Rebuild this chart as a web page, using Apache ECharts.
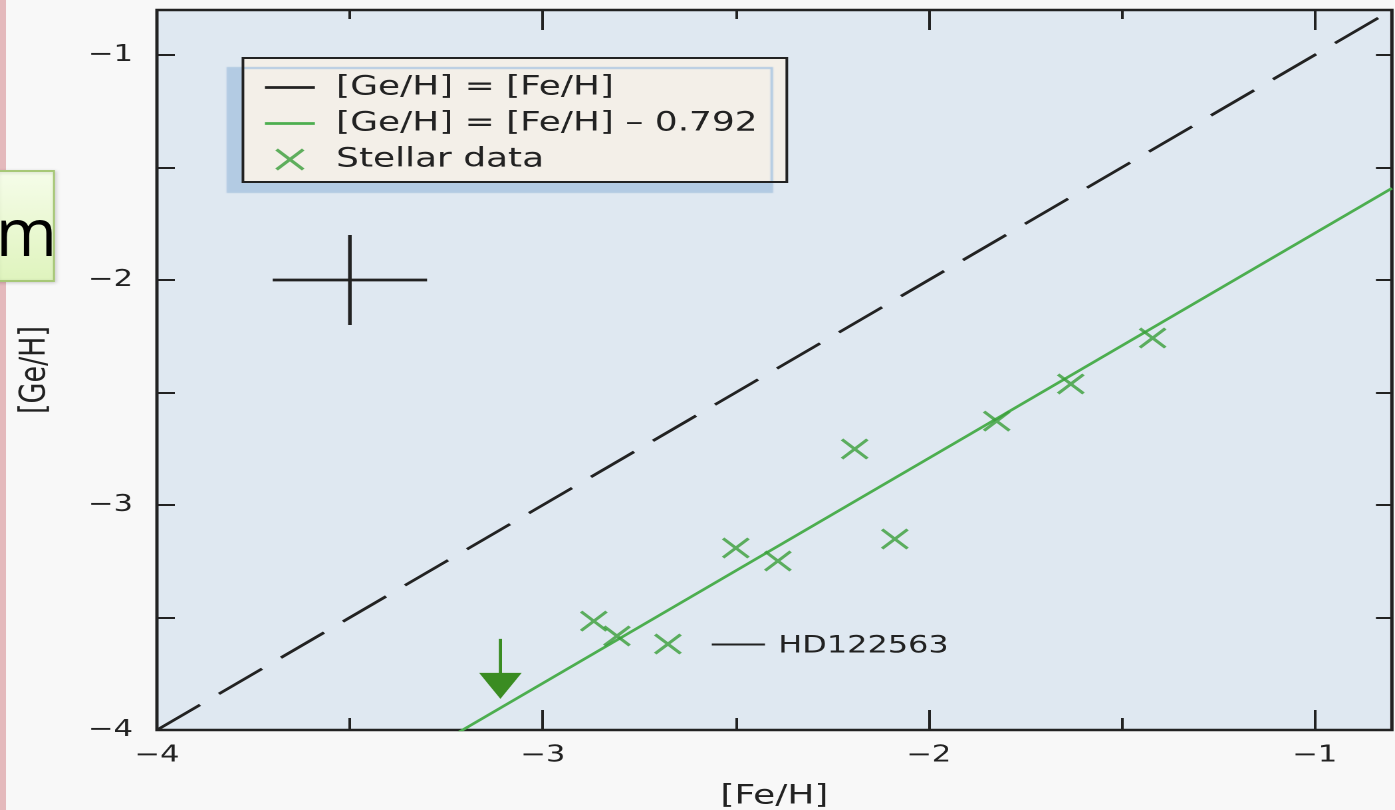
<!DOCTYPE html>
<html>
<head>
<meta charset="utf-8">
<title>[Ge/H] vs [Fe/H]</title>
<script src="https://cdn.jsdelivr.net/npm/echarts@6/dist/echarts.min.js"></script>
<style>
  html, body { margin: 0; padding: 0; background: #f8f8f8; overflow: hidden; }
  /* the figure is laid out narrow and widened horizontally as a whole */
  #chart { width: 1049px; height: 810px; transform-origin: 0 0; transform: scaleX(1.3298); }
</style>
</head>
<body>
<div id="chart"></div>
<script>
// Horizontal widening applied to the whole figure
const STRETCH = 1395 / 1049;

// Axis ranges and ticks
const xRange = [-4, -0.8];
const yRange = [-4, -0.8];
const xMajorTicks = [-4, -3, -2, -1];
const xMinorTicks = [-3.5, -2.5, -1.5];
const yTicks = [-4, -3.5, -3, -2.5, -2, -1.5, -1];
const yLabelTicks = [-4, -3, -2, -1];

// Stellar abundances
const starFe = [-1.42, -1.632, -1.824, -2.192, -2.088, -2.5, -2.391, -2.868, -2.808, -2.676];
const starGe = [-2.258, -2.462, -2.627, -2.751, -3.151, -3.191, -3.249, -3.516, -3.582, -3.618];
const starNames = ['', '', '', '', '', '', '', '', '', 'HD122563'];

// Upper limit (arrow) and representative error bar
const limitFe = [-3.11];
const limitGe = [-3.595];
const errCenter = [-3.5, -2.0];
const errSize = [0.2, 0.2];

// Reference relations
const offset = 0.792;
const lineFe = [-4, -0.8];

const names = ['[Ge/H] = [Fe/H]', '[Ge/H] = [Fe/H] \u2013 ' + offset.toFixed(3), 'Stellar data'];

const FONT = 'DejaVu Sans';
const INK = '#222';
const GREEN_LINE = '#4cae4f';
const GREEN_MARK = '#389e38';
const GREEN_ARROW = '#3a8c22';

const minus = v => String(v).replace('-', '\u2212');

const crossPath = 'path://M0,9L9,0L50,41L91,0L100,9L59,50L100,91L91,100L50,59L9,100L0,91L41,50Z';
const barPath = 'path://M0,0H40V2.8H0Z';

const chart = echarts.init(document.getElementById('chart'), null, { renderer: 'canvas', devicePixelRatio: 2 });

function tickAxis(pos, values, len, withLabel, extra) {
  return Object.assign({
    type: 'value', position: pos, min: xRange[0], max: xRange[1],
    axisLine: { show: false },
    splitLine: { show: false },
    axisTick: { show: true, inside: true, length: len, customValues: values,
      lineStyle: { color: INK, width: 2 } },
    axisLabel: withLabel ? {
      customValues: values, color: INK, fontFamily: FONT, fontSize: 23, margin: 14,
      formatter: minus
    } : { show: false }
  }, extra || {});
}

const option = {
  backgroundColor: '#f8f8f8',
  animation: false,
  grid: {
    left: 118, right: 2.3, top: 10, bottom: 80,
    outerBoundsMode: 'none', containLabel: false,
    show: true, backgroundColor: '#dfe8f1', borderColor: INK, borderWidth: 2.5
  },
  xAxis: [
    tickAxis('bottom', xMajorTicks, 20, true, {
      name: '[Fe/H]', nameLocation: 'middle', nameGap: 53,
      nameTextStyle: { color: INK, fontFamily: FONT, fontSize: 27 }
    }),
    tickAxis('bottom', xMinorTicks, 12, false),
    tickAxis('top', xMajorTicks, 20, false),
    tickAxis('top', xMinorTicks, 9, false)
  ],
  yAxis: [
    {
      type: 'value', position: 'left', min: yRange[0], max: yRange[1],
      axisLine: { show: false }, splitLine: { show: false },
      axisTick: { show: true, inside: true, length: 13.5, customValues: yTicks,
        lineStyle: { color: INK, width: 2 } },
      axisLabel: { customValues: yLabelTicks, color: INK, fontFamily: FONT, fontSize: 23,
        margin: 18, formatter: minus },
      name: '[Ge/H]', nameLocation: 'middle', nameGap: 78, nameRotate: 90,
      nameTextStyle: { color: INK, fontFamily: FONT, fontSize: 27 }
    },
    {
      type: 'value', position: 'right', min: yRange[0], max: yRange[1],
      axisLine: { show: false }, splitLine: { show: false },
      axisTick: { show: true, inside: true, length: 12, customValues: yTicks,
        lineStyle: { color: INK, width: 2 } },
      axisLabel: { show: false }
    }
  ],
  legend: {
    orient: 'vertical', left: 182.7, top: 58,
    padding: [16, 22, 9, 16.5],
    itemGap: 9, itemWidth: 37.6, itemHeight: 22,
    backgroundColor: '#f3efe8', borderColor: INK, borderWidth: 2, borderRadius: 0,
    shadowColor: '#b3cbe3', shadowBlur: 1, shadowOffsetX: -11.3, shadowOffsetY: 10,
    textStyle: { color: INK, fontFamily: FONT, fontSize: 27, lineHeight: 27, padding: [0, 0, 0, 11] },
    data: [
      { name: names[0], icon: barPath, itemStyle: { color: INK } },
      { name: names[1], icon: barPath, itemStyle: { color: GREEN_LINE } },
      { name: names[2], icon: crossPath, itemStyle: { color: GREEN_MARK } }
    ]
  },
  series: [
    {
      name: names[0], type: 'line', symbol: 'none', clip: true,
      data: lineFe.map(x => [x, x]),
      lineStyle: { color: INK, width: 2.6, type: [41, 18] }
    },
    {
      name: names[1], type: 'line', symbol: 'none', clip: true,
      data: lineFe.map(x => [x, x - offset]),
      lineStyle: { color: GREEN_LINE, width: 2.5 }
    },
    {
      name: names[2], type: 'scatter', symbol: crossPath, symbolSize: 21,
      itemStyle: { color: GREEN_MARK },
      data: starFe.map((x, i) => ({ value: [x, starGe[i]], name: starNames[i] })),
      z: 4
    },
    {
      // label with leader line for the named star
      type: 'custom', name: 'star-label', silent: true,
      data: starFe.map((x, i) => [x, starGe[i], i]).filter(d => starNames[d[2]]),
      renderItem: (params, api) => {
        const p = api.coord([api.value(0), api.value(1)]);
        const name = starNames[api.value(2)];
        return {
          type: 'group',
          children: [
            { type: 'line', shape: { x1: p[0] + 33, y1: p[1] + 0.5, x2: p[0] + 73, y2: p[1] + 0.5 },
              style: { stroke: INK, lineWidth: 2 } },
            { type: 'text', x: p[0] + 83, y: p[1] + 2,
              style: { text: name, fill: INK, font: '24px "DejaVu Sans"',
                textAlign: 'left', textVerticalAlign: 'middle' } }
          ]
        };
      }
    },
    {
      // upper limit arrow
      type: 'custom', name: 'upper-limit', silent: true,
      data: limitFe.map((x, i) => [x, limitGe[i]]),
      renderItem: (params, api) => {
        const p = api.coord([api.value(0), api.value(1)]);
        return {
          type: 'group',
          children: [
            { type: 'line', shape: { x1: p[0], y1: p[1], x2: p[0], y2: p[1] + 36 },
              style: { stroke: GREEN_ARROW, lineWidth: 2.4 } },
            { type: 'polygon', shape: { points: [[p[0] - 16, p[1] + 34], [p[0] + 16, p[1] + 34], [p[0], p[1] + 60]] },
              style: { fill: GREEN_ARROW } }
          ]
        };
      }
    },
    {
      // representative error bar
      type: 'custom', name: 'error-bar', silent: true,
      data: [[errCenter[0], errCenter[1], errSize[0], errSize[1]]],
      renderItem: (params, api) => {
        const x = api.value(0), y = api.value(1), ex = api.value(2), ey = api.value(3);
        const l = api.coord([x - ex, y]), r = api.coord([x + ex, y]);
        const t = api.coord([x, y + ey]), b = api.coord([x, y - ey]);
        const style = { stroke: INK, lineWidth: 2.7 };
        return {
          type: 'group',
          children: [
            { type: 'line', shape: { x1: l[0], y1: l[1], x2: r[0], y2: r[1] }, style },
            { type: 'line', shape: { x1: t[0], y1: t[1], x2: b[0], y2: b[1] }, style }
          ]
        };
      }
    }
  ],
  graphic: [
    // page edge strip and call-out tab, kept at their natural width
    {
      type: 'group', x: 0, y: 0, scaleX: 1 / STRETCH, z: 100,
      children: [
        { type: 'rect', shape: { x: 0, y: 0, width: 6, height: 810 },
          style: { fill: '#e4b9bc' } },
        { type: 'rect', shape: { x: -4, y: 171, width: 58, height: 110 },
          style: {
            fill: new echarts.graphic.LinearGradient(0, 0, 0, 1, [
              { offset: 0, color: '#f6fdea' }, { offset: 1, color: '#dff4bd' }
            ]),
            stroke: '#a7c877', lineWidth: 2,
            shadowColor: 'rgba(0,0,0,0.15)', shadowBlur: 3, shadowOffsetX: 1, shadowOffsetY: 1
          } },
        { type: 'text', x: 57, y: 270,
          style: { text: 'm', fill: '#000', font: '66px "Open Sans"',
            textAlign: 'right', textVerticalAlign: 'bottom' } }
      ]
    }
  ]
};

chart.setOption(option);
</script>
</body>
</html>
